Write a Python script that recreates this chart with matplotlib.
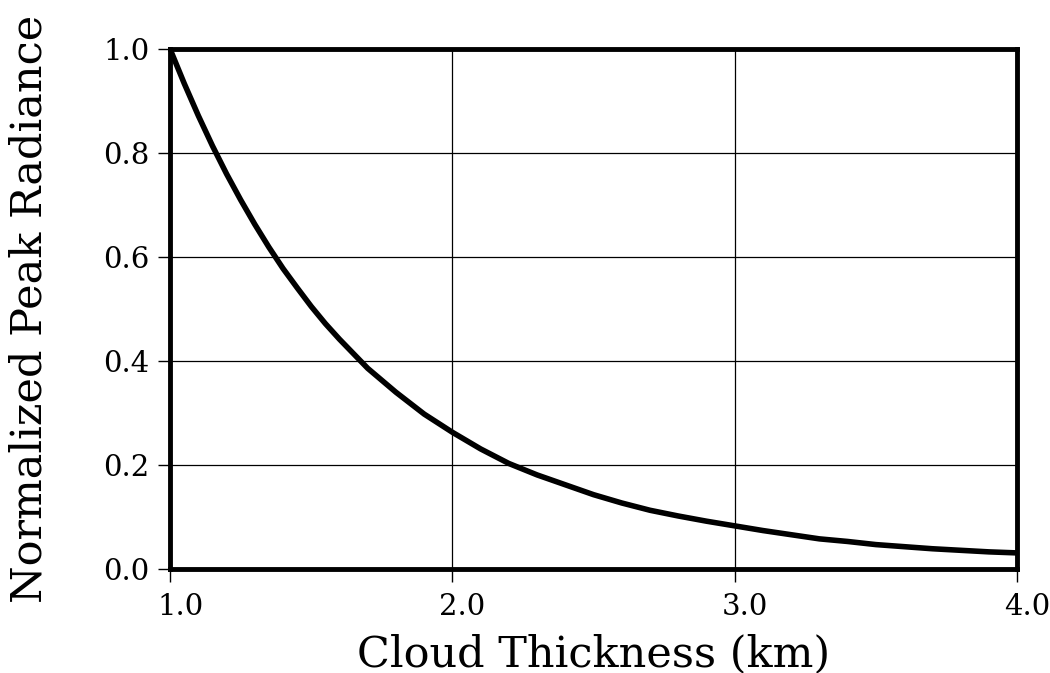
import matplotlib.pyplot as plt
import matplotlib.transforms as mtransforms

# cloud thickness (km) and normalized peak radiance
thickness = [1.0, 1.05, 1.1, 1.15, 1.2, 1.25, 1.3, 1.35, 1.4, 1.45, 1.5, 1.55, 1.6, 1.7, 1.8, 1.9,
             2.0, 2.1, 2.2, 2.3, 2.4, 2.5, 2.6, 2.7, 2.8, 2.9,
             3.0, 3.1, 3.2, 3.3, 3.4, 3.5, 3.6, 3.7, 3.8, 3.9, 4.0]
radiance = [1.000, 0.934, 0.872, 0.814, 0.760, 0.710, 0.663, 0.619, 0.578, 0.541, 0.505, 0.472,
            0.442, 0.386, 0.340, 0.298,
            0.263, 0.231, 0.203, 0.181, 0.162, 0.143, 0.127, 0.113, 0.102, 0.092,
            0.083, 0.074, 0.066, 0.058, 0.053, 0.047, 0.043, 0.039, 0.036, 0.033, 0.031]

x_ticks = [1.0, 2.0, 3.0, 4.0]
y_ticks = [0.0, 0.2, 0.4, 0.6, 0.8, 1.0]

plt.rcParams['font.family'] = ['DejaVu Serif']

fig = plt.figure(figsize=(10.5, 6.73), dpi=100)
ax = fig.add_axes([0.162, 0.1545, 0.8066, 0.7725])

ax.plot(thickness, radiance, color='black', linewidth=4.0, solid_joinstyle='round', zorder=3)

ax.set_xlim(1.0, 4.0)
ax.set_ylim(0.0, 1.0)
ax.set_xticks(x_ticks)
ax.set_yticks(y_ticks)
ax.set_xticklabels([f"{v:.1f}" for v in x_ticks])
ax.set_yticklabels([f"{v:.1f}" for v in y_ticks])

ax.grid(True, color='black', linewidth=0.9)
ax.set_axisbelow(True)

for side in ['top', 'bottom', 'left', 'right']:
    ax.spines[side].set_linewidth(3.5)

ax.tick_params(axis='both', direction='out', length=9, width=1.0,
               labelsize=21, colors='black')
ax.tick_params(axis='y', pad=6)
ax.tick_params(axis='x', pad=8)

# x tick labels sit a little to the right of their ticks
offset = mtransforms.ScaledTranslation(10 / 100, 0, fig.dpi_scale_trans)
for lbl in ax.get_xticklabels():
    lbl.set_transform(lbl.get_transform() + offset)

ax.set_xlabel("Cloud Thickness (km)", fontsize=31, labelpad=9)
ax.set_ylabel("Normalized Peak Radiance", fontsize=31, labelpad=38)

fig.savefig("out.png", dpi=100, facecolor='white')
